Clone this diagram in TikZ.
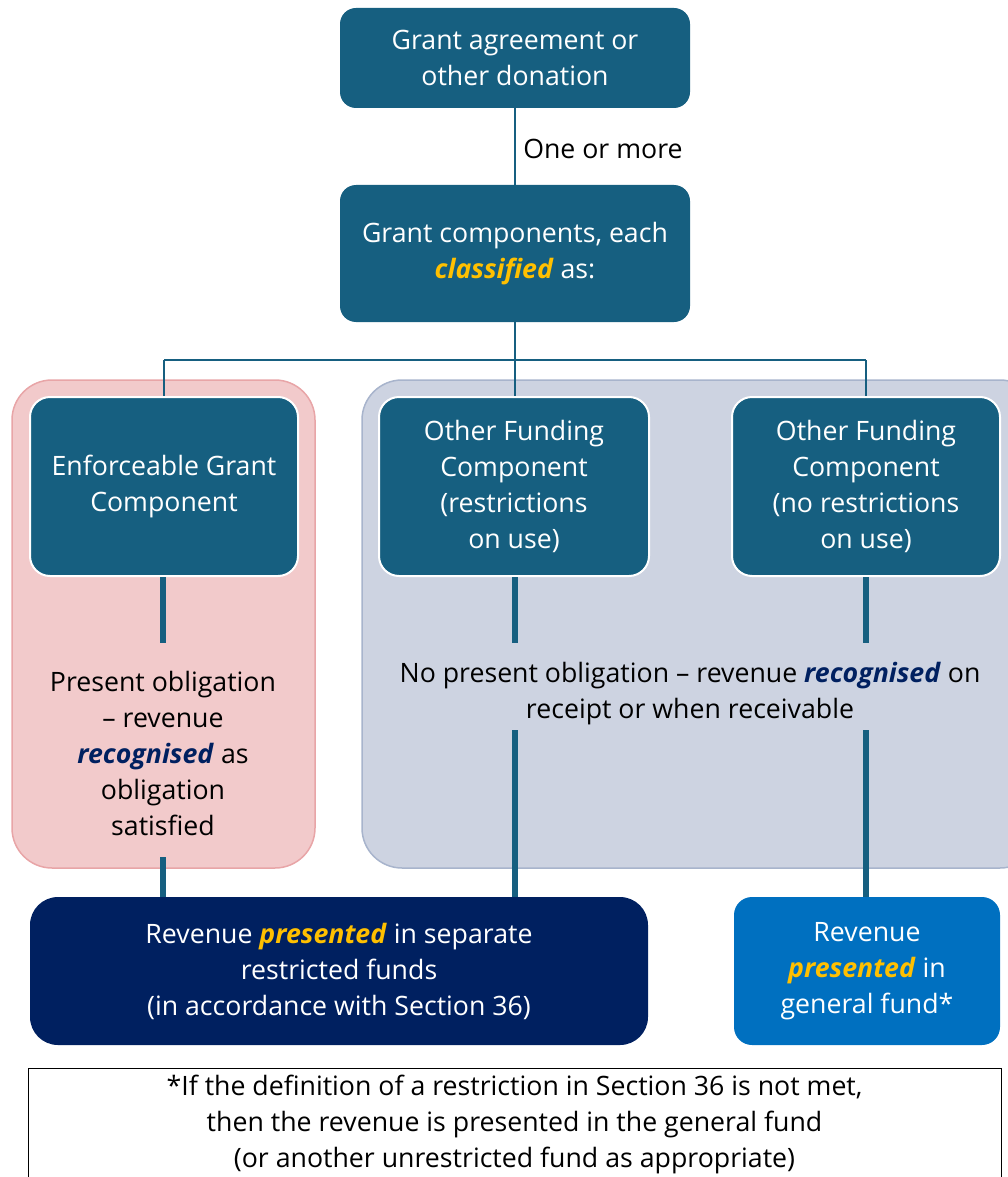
\documentclass[tikz,border=0pt]{standalone}
\usepackage{fontspec}
\setmainfont{Open Sans}
\definecolor{cTeal}{RGB}{22,95,128}
\definecolor{cPink}{RGB}{242,202,203}
\definecolor{cPinkLine}{RGB}{232,165,167}
\definecolor{cGray}{RGB}{205,211,225}
\definecolor{cGrayLine}{RGB}{168,180,204}
\definecolor{cNavy}{RGB}{0,32,96}
\definecolor{cBlue}{RGB}{0,112,192}
\definecolor{cGold}{RGB}{255,192,0}
\newcommand{\hlgold}[1]{\textcolor{cGold}{\textbf{\textit{#1}}}}
\newcommand{\hlnavy}[1]{\textcolor{cNavy}{\textbf{\textit{#1}}}}
\tikzset{
  txt/.style={font=\fontsize{26.7}{36}\selectfont, align=center, inner sep=0pt},
  tbox/.style={txt, fill=cTeal, text=white, rounded corners=16pt},
  cbox/.style={tbox, draw=white, line width=2pt, rounded corners=20pt},
  thinln/.style={draw=cTeal, line width=2.5pt},
  thickln/.style={draw=cTeal, line width=5.5pt},
  pinkbg/.style={fill=cPink, draw=cPinkLine, line width=1.5pt, rounded corners=40pt},
  graybg/.style={fill=cGray, draw=cGrayLine, line width=1.5pt, rounded corners=40pt},
}
\begin{document}
\begin{tikzpicture}[x=1pt,y=-1pt]
\useasboundingbox (0,0) rectangle (1008,1177);
\clip (0,0) rectangle (1008,1177);

% background panels
\path[pinkbg] (12,380) rectangle (315,868);
\path[graybg] (362,380) rectangle (1040,868);

% top boxes
\node[tbox, minimum width=350pt, minimum height=100pt] (top) at (515,58) {Grant agreement or\\other donation};
\node[tbox, minimum width=350pt, minimum height=137pt] (comp) at (515,253.5) {Grant components, each\\\hlgold{classified} as:};

% component boxes
\node[cbox, minimum width=268pt, minimum height=179pt] (enf) at (164,486.5) {Enforceable Grant\\Component};
\node[cbox, minimum width=270pt, minimum height=179pt] (ofr) at (514,486.5) {Other Funding\\Component\\(restrictions\\on use)};
\node[cbox, minimum width=268pt, minimum height=179pt] (ofn) at (866,486.5) {Other Funding\\Component\\(no restrictions\\on use)};

% middle texts
\node[txt] (po) at (163,753) {Present obligation\\– revenue\\\hlnavy{recognised} as\\obligation\\satisfied};
\node[txt] (np) at (690,694) {No present obligation – revenue \hlnavy{recognised} on\\receipt or when receivable};

% bottom boxes
\node[tbox, fill=cNavy, rounded corners=28pt, minimum width=618pt, minimum height=148pt] (navy) at (339,971) {\raisebox{-3pt}{\parbox{600pt}{\centering Revenue \hlgold{presented} in separate\\restricted funds\\(in accordance with Section 36)}}};
\node[tbox, fill=cBlue, rounded corners=18pt, minimum width=266pt, minimum height=148pt] (gen) at (867,971) {\raisebox{-3pt}{\parbox{250pt}{\centering Revenue\\\hlgold{presented} in\\general fund*}}};

% footnote
\node[txt, draw=black, line width=1pt, anchor=north, minimum width=973pt, inner ysep=7pt] (note) at (514.5,1068) {*If the definition of a restriction in Section 36 is not met,\\then the revenue is presented in the general fund\\(or another unrestricted fund as appropriate)};

% thin connectors
\coordinate (hM) at (515,360);
\coordinate (hL) at (164,360);
\coordinate (hR) at (866,360);
\draw[thinln] (top.south) -- node[txt, right, xshift=7pt, yshift=-2pt] (one) {One or more} (comp.north);
\draw[thinln] (comp.south) -- (hM);
\draw[thinln] (hL) -- (hR);
\draw[thinln] (hL) -- (enf.north);
\draw[thinln] (hM) -- (hM |- ofr.north);
\draw[thinln] (hR) -- (ofn.north);

% thick connectors
\coordinate (aL) at (163,643);
\coordinate (aM) at (515,643);
\coordinate (aR) at (866,643);
\coordinate (bL) at (163,857);
\coordinate (bM) at (515,730);
\coordinate (bR) at (866,730);
\draw[thickln] (enf.south -| aL) -- (aL);
\draw[thickln] (ofr.south -| aM) -- (aM);
\draw[thickln] (ofn.south) -- (aR);
\draw[thickln] (bL) -- (bL |- navy.north);
\draw[thickln] (bM) -- (bM |- navy.north);
\draw[thickln] (bR) -- (bR |- gen.north);
\end{tikzpicture}
\end{document}
